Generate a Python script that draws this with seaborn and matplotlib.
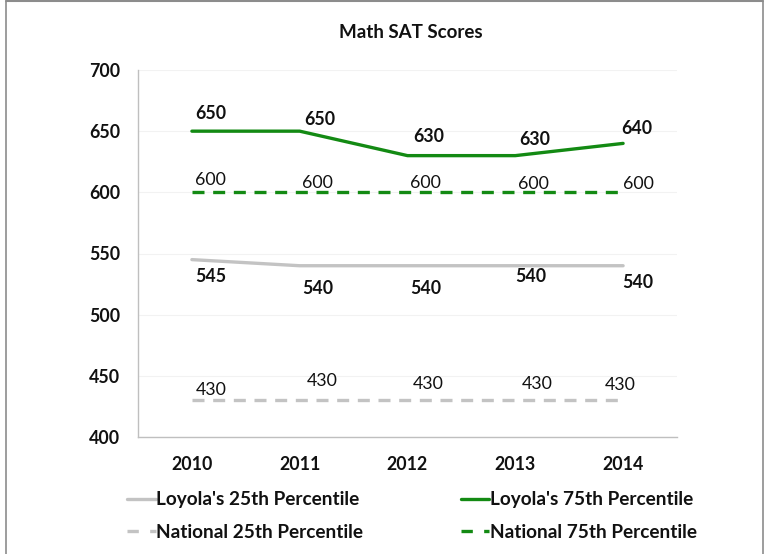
import matplotlib
matplotlib.use("Agg")
import matplotlib.pyplot as plt
from matplotlib.lines import Line2D
import seaborn as sns
import pandas as pd

years = ["2010", "2011", "2012", "2013", "2014"]
loyola_25 = [545, 540, 540, 540, 540]
loyola_75 = [650, 650, 630, 630, 640]
national_25 = [430, 430, 430, 430, 430]
national_75 = [600, 600, 600, 600, 600]
series_names = ["Loyola's 25th Percentile", "Loyola's 75th Percentile",
                "National 25th Percentile", "National 75th Percentile"]
y_ticks = [400, 450, 500, 550, 600, 650, 700]

sns.set_theme(style="white")
plt.rcParams["font.family"] = ["Lato", "DejaVu Sans"]

GREEN = "#138a13"
GRAY = "#c3c3c3"

rows = []
for name, vals in zip(series_names, [loyola_25, loyola_75, national_25, national_75]):
    for yr, v in zip(years, vals):
        rows.append({"Year": yr, "Score": v, "Series": name})
df = pd.DataFrame(rows)

palette = {series_names[0]: GRAY, series_names[1]: GREEN,
           series_names[2]: GRAY, series_names[3]: GREEN}
dashes = {series_names[0]: "", series_names[1]: "",
          series_names[2]: (3.6, 2.6), series_names[3]: (3.6, 2.6)}

fig = plt.figure(figsize=(7.7, 5.54), dpi=100)
ax = fig.add_axes([138 / 770, 1 - 437 / 554, (677 - 138) / 770, (437 - 70) / 554])

sns.lineplot(data=df, x="Year", y="Score", hue="Series", style="Series",
             palette=palette, dashes=dashes, linewidth=2.4, legend=False, ax=ax,
             sort=False)

ax.set_xlim(-0.5, 4.5)
ax.set_ylim(400, 700)
ax.set_yticks(y_ticks)
ax.set_xticks(range(len(years)))
ax.set_xticklabels(years)
ax.set_xticks([i - 0.5 for i in range(len(years) + 1)], minor=True)
ax.tick_params(axis="x", which="major", length=0, pad=14, labelsize=12.8)
ax.tick_params(axis="x", which="minor", length=5, color="#bfbfbf", width=1, direction="out")
ax.tick_params(axis="y", length=5, color="#bfbfbf", width=1, direction="out", pad=8, labelsize=12.8)
for lab in ax.get_xticklabels() + ax.get_yticklabels():
    lab.set_fontweight("bold")
    lab.set_color("#111111")
ax.set_xlabel("")
ax.set_ylabel("")
ax.yaxis.grid(True, color="#f2f2f2", linewidth=0.8)
ax.xaxis.grid(False)
for s in ["top", "right"]:
    ax.spines[s].set_visible(False)
for s in ["left", "bottom"]:
    ax.spines[s].set_color("#bfbfbf")
    ax.spines[s].set_linewidth(1)

# label offsets in pixels (dx, dy), styling only
off_l75 = [(19, 18), (20, 12), (21, 19), (19, 16), (14, 15)]
off_n75 = [(19, 12), (18, 9), (18, 9), (18, 8), (15, 8)]
off_l25 = [(19, -17), (18, -23), (18, -23), (15, -11), (15, -17)]
off_n25 = [(19, 10), (23, 19), (21, 16), (22, 16), (-3, 15)]

def label(vals, offs, bold):
    for i, (v, (dx, dy)) in enumerate(zip(vals, offs)):
        ax.annotate(str(v), (i, v), xytext=(dx, dy), textcoords="offset pixels",
                    ha="center", va="center", fontsize=12.8,
                    fontweight="bold" if bold else "normal", color="#111111",
                    annotation_clip=False)

label(loyola_75, off_l75, True)
label(national_75, off_n75, False)
label(loyola_25, off_l25, True)
label(national_25, off_n25, False)

fig.text(411 / 770, 1 - 32 / 554, "Math SAT Scores", ha="center", va="center",
         fontsize=13.5, fontweight="bold", color="#111111")

handles = [
    Line2D([], [], color=GRAY, linewidth=2.4),
    Line2D([], [], color=GRAY, linewidth=2.4, dashes=(3.4, 3.4)),
    Line2D([], [], color=GREEN, linewidth=2.4),
    Line2D([], [], color=GREEN, linewidth=2.4, dashes=(3.4, 3.4)),
]
labels = [series_names[0], series_names[2], series_names[1], series_names[3]]
leg = fig.legend(handles, labels, ncol=2, frameon=False, loc="center left",
                 bbox_to_anchor=(127 / 770, 1 - 516 / 554), borderpad=0,
                 borderaxespad=0,
                 prop={"family": ["Lato"], "weight": "bold", "size": 13.7},
                 handlelength=1.5, handletextpad=0.05, columnspacing=5.1,
                 labelspacing=0.8)
for t in leg.get_texts():
    t.set_color("#111111")

# outer border
bc = "#8c8c8c"
fig.add_artist(Line2D([6 / 770, 6 / 770], [0, 1 - 1 / 554], transform=fig.transFigure, color=bc, lw=1.2))
fig.add_artist(Line2D([6 / 770, 763 / 770], [1 - 1 / 554, 1 - 1 / 554], transform=fig.transFigure, color=bc, lw=1.5))
fig.add_artist(Line2D([763 / 770, 763 / 770], [0, 1 - 1 / 554], transform=fig.transFigure, color=bc, lw=1.2))

fig.savefig("out.png", dpi=100)
